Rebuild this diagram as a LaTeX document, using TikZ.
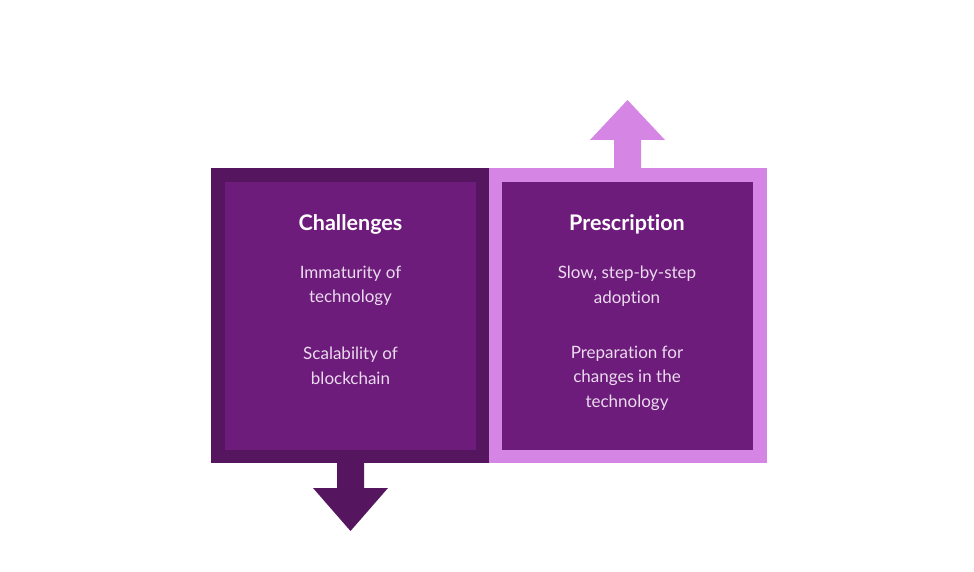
\documentclass[tikz,border=0pt]{standalone}
\usepackage{fontspec}
\setmainfont{Lato}[Ligatures={NoCommon}]
\definecolor{darkedge}{HTML}{55165F}
\definecolor{innerfill}{HTML}{6E1C7B}
\definecolor{lightedge}{HTML}{D585E3}
\definecolor{bodytext}{HTML}{EADBEE}
\begin{document}
\begin{tikzpicture}[x=1pt,y=-1pt,
  outerbox/.style={minimum width=278pt,minimum height=295pt,inner sep=0pt,outer sep=0pt,anchor=north west},
  innerbox/.style={minimum width=251pt,minimum height=268pt,inner sep=0pt,outer sep=0pt,fill=innerfill,anchor=north west},
  title/.style={text=white,font=\fontsize{21.5}{24}\selectfont\bfseries},
  body/.style={text=bodytext,font=\fontsize{17}{24.5}\selectfont,align=center}]
\useasboundingbox (0,0) rectangle (974,572);
% outer frames
\node[outerbox,fill=darkedge] (lout) at (211,168) {};
\node[outerbox,fill=lightedge] (rout) at (489,168) {};
% inner boxes
\node[innerbox] (lin) at (225,182) {};
\node[innerbox] (rin) at (502,182) {};
% arrows
\fill[lightedge] (614,169) -- (614,140) -- (590,140) -- (627.5,100) -- (665,140) -- (641,140) -- (641,169) -- cycle;
\fill[darkedge] (337,462) -- (337,488) -- (313,488) -- (350.5,531) -- (388,488) -- (364,488) -- (364,462) -- cycle;
% texts
\node[title] (lt) at (350.5,224.5) {Challenges};
\node[body] (l1) at (350.5,286) {Immaturity of\\technology};
\node[body] (l2) at (350.5,366) {Scalability of\\blockchain};
\node[title] (rt) at (627,224.5) {Prescription};
\node[body] (r1) at (627,286) {Slow, step-by-step\\adoption};
\node[body] (r2) at (627,378) {Preparation for\\changes in the\\technology};
\end{tikzpicture}
\end{document}
